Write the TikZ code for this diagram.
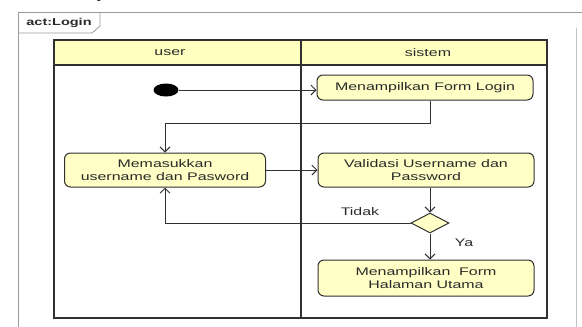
\documentclass[tikz,border=0pt]{standalone}
\usepackage{fontspec}
\setmainfont{Liberation Serif}
\newfontfamily\diagfont[FakeStretch=1.45]{Liberation Sans}
\usetikzlibrary{arrows.meta,shapes.geometric}

\definecolor{laneline}{HTML}{303030}
\definecolor{frameline}{HTML}{9A9A9A}
\definecolor{actfill}{HTML}{FFFFC6}
\definecolor{headfill}{HTML}{FFFFC0}
\definecolor{ink}{HTML}{2A2A2A}

\tikzset{
  txt/.style={font=\diagfont\fontsize{11}{13.3}\selectfont, text=ink},
  action/.style={txt, draw=laneline, line width=1pt, fill=actfill,
    rounded corners=6pt, align=center, inner sep=0pt},
  flow/.style={draw=laneline, line width=0.9pt,
    -{Straight Barb[length=5pt,width=10pt,line width=0.9pt]}},
  plain/.style={draw=laneline, line width=0.9pt},
}

\begin{document}
\begin{tikzpicture}[x=1pt, y=-1pt]
\useasboundingbox (0,0) rectangle (582,327);

% cut-off heading glyph at the very top
\begin{scope}
  \clip (0,0) rectangle (582,8);
  \node[font=\fontsize{14}{14}\selectfont\bfseries, anchor=base] (headj) at (100,-2) {j};
\end{scope}

% activity frame with its name tag
\draw[frameline, line width=0.8pt] (18,330) -- (18,12) -- (582,12);
\draw[frameline!60, line width=0.6pt] (576,28) -- (576,330);
\draw[frameline, line width=0.8pt] (18,33) -- (92,33) -- (100,26) -- (100,12);
\node[font=\diagfont\fontsize{10}{10}\selectfont\bfseries, text=ink] (tag) at (59,22.5) {act:Login};

% swimlanes
\fill[headfill] (54,40) rectangle (547,65);
\draw[laneline, line width=1.2pt] (54,40) rectangle (547,318);
\draw[laneline, line width=1.2pt] (54,65) -- (547,65);
\draw[laneline, line width=1.2pt] (301,40) -- (301,318);
\node[txt] (laneuser) at (170,52.5) {user};
\node[txt] (lanesys) at (428,52.5) {sistem};

% nodes
\node[ellipse, fill=black, minimum width=25pt, minimum height=13pt, inner sep=0pt] (init) at (166,90) {};
\node[action, minimum width=216pt, minimum height=25pt] (login) at (425,87.5) {Menampilkan Form Login};
\node[action, minimum width=201pt, minimum height=34pt] (input) at (165,170) {Memasukkan\\username dan Pasword};
\node[action, minimum width=216pt, minimum height=34pt] (valid) at (426,170) {Validasi Username dan\\Password};
\node[diamond, draw=laneline, line width=1pt, fill=actfill, minimum width=38pt, minimum height=20pt, inner sep=0pt] (dec) at (430,223) {};
\node[action, minimum width=216pt, minimum height=36pt] (final) at (426,278) {Menampilkan\ \ Form\\Halaman Utama};

% connectors
\coordinate (back) at (165,123);
\draw[flow] (init.east) -- (init -| login.west);
\draw[plain] (login.south -| dec) |- (back);
\draw[flow] (back) -- (input.north);
\draw[flow] (input.east) -- (input -| valid.west);
\draw[flow] (valid.south -| dec) -- (dec.north);
\draw[flow] (dec.west) -| (input.south);
\draw[flow] (dec.south) -- (final.north -| dec);

% guards
\node[txt] (tidak) at (360,212) {Tidak};
\node[txt] (ya) at (464,243) {Ya};
\end{tikzpicture}
\end{document}
